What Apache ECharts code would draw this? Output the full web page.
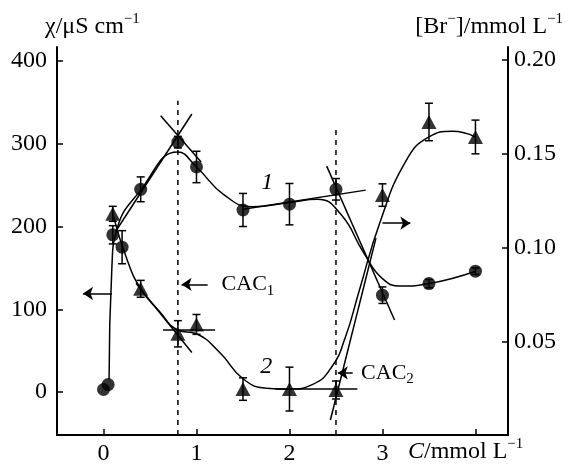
<!DOCTYPE html>
<html>
<head>
<meta charset="utf-8">
<script src="https://cdn.jsdelivr.net/npm/echarts@6/dist/echarts.min.js"></script>
<style>
  html, body { margin: 0; padding: 0; background: #fff; }
  #chart { width: 568px; height: 466px; }
</style>
</head>
<body>
<div id="chart"></div>
<script>
var FONT = '"Liberation Serif", serif';

// curve 1 - conductivity, circles, left axis
var concK = [0, 0.05, 0.1, 0.2, 0.4, 0.8, 1.0, 1.5, 2.0, 2.5, 3.0, 3.5, 4.0];
var kappa = [3, 9, 190, 175, 245, 302, 272, 220, 227, 245, 117, 131, 146];
var kappaErr = [0, 0, 11, 20, 15, 7, 19, 20, 25, 13, 10, 5, 4];

// curve 2 - [Br-], triangles, right axis
var concBr = [0.1, 0.4, 0.8, 1.0, 1.5, 2.0, 2.5, 3.0, 3.5, 4.0];
var br = [0.118, 0.078, 0.054, 0.059, 0.0245, 0.0245, 0.024, 0.128, 0.167, 0.159];
var brErr = [0.004, 0.0045, 0.007, 0.0053, 0.006, 0.0117, 0.0048, 0.006, 0.01, 0.009];

// fitted curves
var fit1X = [0.06, 0.09, 0.14, 0.4, 0.8, 1.0, 1.3, 1.6, 2.0, 2.3, 2.55, 2.8, 3.0, 3.2, 3.5, 4.0];
var fit1Y = [15, 150, 195, 244, 290, 272, 238, 224, 229, 233, 215, 168, 137, 128, 131, 146];
var fit2X = [0.1, 0.25, 0.4, 0.6, 0.8, 1.0, 1.25, 1.5, 1.75, 2.0, 2.25, 2.45, 2.6, 2.75, 2.97, 3.25, 3.5, 3.75, 4.0];
var fit2Y = [0.118, 0.094, 0.078, 0.066, 0.056, 0.054, 0.044, 0.03, 0.025, 0.0245, 0.027, 0.036, 0.052, 0.077, 0.113, 0.146, 0.159, 0.162, 0.159];

// tangent lines
var tangents1 = [
  [[0.13, 194], [0.95, 336]],
  [[0.615, 334], [1.05, 278]],
  [[1.5, 221], [2.82, 244]],
  [[2.4, 273], [3.13, 87]]
];
var tangents2 = [
  [[0.35, 0.081], [0.95, 0.044]],
  [[0.64, 0.056], [1.2, 0.056]],
  [[1.85, 0.0245], [2.73, 0.0245]],
  [[2.44, 0.008], [2.93, 0.105]]
];

// CAC markers
var cacX = [0.8, 2.5];
var cacTop = [352, 319];

// arrows
var arrows1 = [
  [[0.09, 119], [-0.22, 119]],
  [[1.12, 130], [0.84, 130]],
  [[2.68, 23], [2.52, 23]]
];
var arrows2 = [
  [[3.0, 0.113], [3.3, 0.113]]
];

var xTicks = [0, 1, 2, 3, 4];
var xLabels = [0, 1, 2, 3];
var yLeftTicks = [0, 100, 200, 300, 400];
var yRightTicks = [0.05, 0.10, 0.15, 0.20];

var LEFT_MIN = -52, LEFT_MAX = 417;

var chart = echarts.init(document.getElementById('chart'));

function errBar(params, api) {
  var x = api.value(0), lo = api.value(1), hi = api.value(2);
  if (hi - lo <= 0) return null;
  var t = api.coord([x, hi]), b = api.coord([x, lo]);
  var w = 4;
  var st = { stroke: '#000', lineWidth: 1.5 };
  return {
    type: 'group',
    children: [
      { type: 'line', shape: { x1: t[0], y1: t[1], x2: b[0], y2: b[1] }, style: st },
      { type: 'line', shape: { x1: t[0] - w, y1: t[1], x2: t[0] + w, y2: t[1] }, style: st },
      { type: 'line', shape: { x1: b[0] - w, y1: b[1], x2: b[0] + w, y2: b[1] }, style: st }
    ]
  };
}

function pairs(xs, ys) {
  return xs.map(function (x, i) { return [x, ys[i]]; });
}

var lineStyle = { color: '#000', width: 1.5 };
var series = [];

series.push({
  type: 'line', data: pairs(fit1X, fit1Y), yAxisIndex: 0,
  smooth: 0.5, showSymbol: false, lineStyle: lineStyle, silent: true
});
series.push({
  type: 'line', data: pairs(fit2X, fit2Y), yAxisIndex: 1,
  smooth: 0.5, showSymbol: false, lineStyle: lineStyle, silent: true
});
tangents1.forEach(function (seg) {
  series.push({ type: 'line', data: seg, yAxisIndex: 0, showSymbol: false, lineStyle: lineStyle, silent: true });
});
tangents2.forEach(function (seg) {
  series.push({ type: 'line', data: seg, yAxisIndex: 1, showSymbol: false, lineStyle: lineStyle, silent: true });
});
cacX.forEach(function (x, i) {
  series.push({
    type: 'line', data: [[x, LEFT_MIN], [x, cacTop[i]]], yAxisIndex: 0, showSymbol: false,
    lineStyle: { color: '#000', width: 1.5, type: [5, 5] }, silent: true
  });
});
var arrowStyle = { color: '#000', width: 1.5, opacity: 1 };
series.push({
  type: 'lines', coordinateSystem: 'cartesian2d', xAxisIndex: 0, yAxisIndex: 0,
  symbol: ['none', 'arrow'], symbolSize: [7, 10], silent: true,
  lineStyle: arrowStyle,
  data: arrows1.map(function (a) { return { coords: a }; })
});
series.push({
  type: 'lines', coordinateSystem: 'cartesian2d', xAxisIndex: 0, yAxisIndex: 1,
  symbol: ['none', 'arrow'], symbolSize: [7, 10], silent: true,
  lineStyle: arrowStyle,
  data: arrows2.map(function (a) { return { coords: a }; })
});
series.push({
  type: 'custom', yAxisIndex: 0, renderItem: errBar, silent: true,
  data: concK.map(function (x, i) { return [x, kappa[i] - kappaErr[i], kappa[i] + kappaErr[i]]; })
});
series.push({
  type: 'custom', yAxisIndex: 1, renderItem: errBar, silent: true,
  data: concBr.map(function (x, i) { return [x, br[i] - brErr[i], br[i] + brErr[i]]; })
});
series.push({
  type: 'scatter', yAxisIndex: 0, data: pairs(concK, kappa),
  symbol: 'circle', symbolSize: 13, itemStyle: { color: '#000' }
});
series.push({
  type: 'scatter', yAxisIndex: 1, data: pairs(concBr, br),
  symbol: 'triangle', symbolSize: [15, 14], itemStyle: { color: '#000' }
});

var axisText = { color: '#000', fontFamily: FONT, fontSize: 24 };

chart.setOption({
  animation: false,
  backgroundColor: '#fff',
  textStyle: { fontFamily: FONT },
  grid: { left: 57, right: 60, top: 47, bottom: 31 },
  xAxis: {
    type: 'value', min: -0.5, max: 4.35,
    axisLine: { onZero: false, lineStyle: { color: '#000', width: 2 } },
    axisTick: { inside: true, length: 6, customValues: xTicks, lineStyle: { color: '#000', width: 1.5 } },
    axisLabel: Object.assign({ margin: 7, customValues: xLabels }, axisText),
    splitLine: { show: false }
  },
  yAxis: [{
    type: 'value', min: LEFT_MIN, max: LEFT_MAX,
    axisLine: { show: true, onZero: false, lineStyle: { color: '#000', width: 2 } },
    axisTick: { show: true, inside: true, length: 6, customValues: yLeftTicks, lineStyle: { color: '#000', width: 1.5 } },
    axisLabel: Object.assign({ margin: 10, customValues: yLeftTicks }, axisText),
    splitLine: { show: false }
  }, {
    type: 'value', min: 0, max: 0.207, position: 'right',
    axisLine: { show: true, onZero: false, lineStyle: { color: '#000', width: 2 } },
    axisTick: { show: true, inside: true, length: 6, customValues: yRightTicks, lineStyle: { color: '#000', width: 1.5 } },
    axisLabel: Object.assign({ margin: 6, customValues: yRightTicks, formatter: function (v) { return v.toFixed(2); } }, axisText),
    splitLine: { show: false }
  }],
  series: series
});

function px(x, y, axis) {
  return chart.convertToPixel({ xAxisIndex: 0, yAxisIndex: axis }, [x, y]);
}

var rich = {
  b: { fontFamily: FONT, fontSize: 24, lineHeight: 30, color: '#000' },
  i: { fontFamily: FONT, fontSize: 24, lineHeight: 30, fontStyle: 'italic', color: '#000' },
  s: { fontFamily: FONT, fontSize: 15, lineHeight: 15, verticalAlign: 'top', color: '#000' },
  c: { fontFamily: FONT, fontSize: 22, lineHeight: 28, color: '#000' },
  d: { fontFamily: FONT, fontSize: 15, lineHeight: 15, verticalAlign: 'bottom', color: '#000' }
};

function txt(p, text, align) {
  return {
    type: 'text', x: p[0], y: p[1],
    style: { text: text, rich: rich, align: align, verticalAlign: 'middle', fontFamily: FONT }
  };
}

var pCac1 = px(1.27, 130, 0);
var pCac2 = px(2.77, 23, 0);
var pOne = px(1.76, 253, 0);
var pTwo = px(1.75, 31, 0);

chart.setOption({
  graphic: [
    txt([45, 27], '{b|χ/μS cm}{s|−1}', 'left'),
    txt([563, 27], '{b|[Br}{s|−}{b|]/mmol L}{s|−1}', 'right'),
    txt([408, 452], '{i|C}{b|/mmol L}{s|−1}', 'left'),
    txt(pCac1, '{c|CAC}{d|1}', 'left'),
    txt(pCac2, '{c|CAC}{d|2}', 'left'),
    txt(pOne, '{i|1}', 'center'),
    txt(pTwo, '{i|2}', 'center')
  ]
});
</script>
</body>
</html>
